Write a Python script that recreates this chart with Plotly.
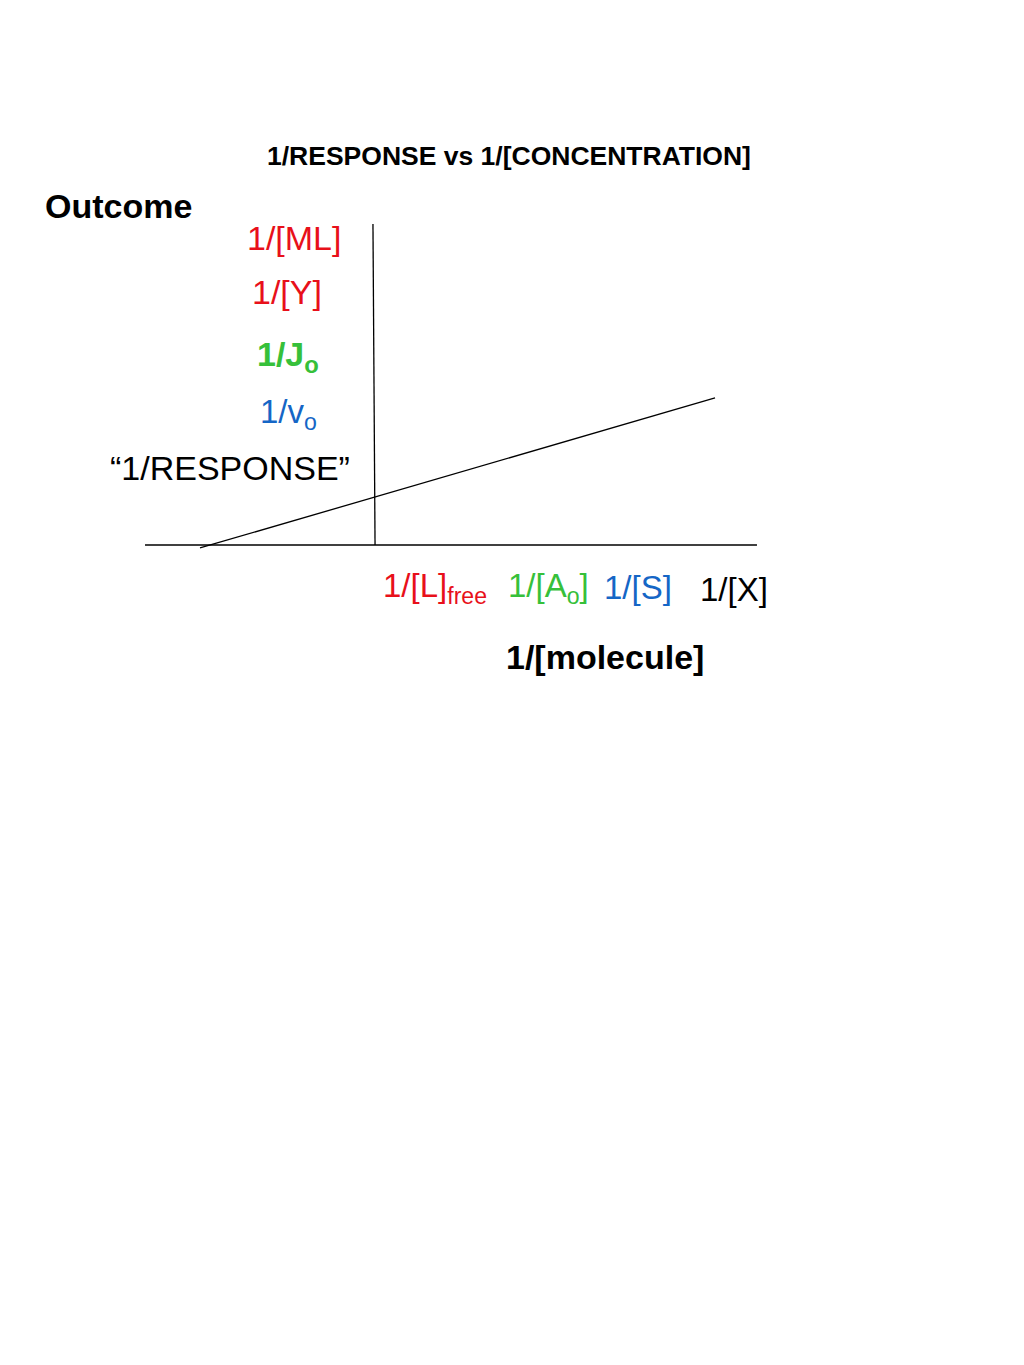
import plotly.graph_objects as go

# ---- data (abstract double-reciprocal units) ----
line_x = [-1.0, 1.96]          # double-reciprocal line: x-intercept at -1
line_y = [-0.017, 0.845]
xaxis_line_x = [-1.316, 2.201]
xaxis_line_y = [0.0, 0.0]
yaxis_line_x = [-0.006, 0.006]
yaxis_line_y = [1.845, 0.0]

y_labels = ["1/[ML]", "1/[Y]", "<b>1/J<sub>o</sub></b>", "1/v<sub>o</sub>", "\u201c1/RESPONSE\u201d"]
x_labels = ["1/[L]<sub>free</sub>", "1/[A<sub>o</sub>]", "1/[S]", "1/[X]"]
title_text = "<b>1/RESPONSE vs 1/[CONCENTRATION]</b>"
y_title = "<b>Outcome</b>"
x_title = "<b>1/[molecule]</b>"

RED = "#e8101a"
GREEN = "#36c03a"
BLUE = "#1566c6"
BLACK = "#000000"

W, H = 1024, 1365
OFF = 8.0          # page body margin
SCALE = 174.0      # px per unit
OX, OY = 374.0 - OFF, 545.0 - OFF

fig = go.Figure()
for xs, ys in [(xaxis_line_x, xaxis_line_y), (yaxis_line_x, yaxis_line_y), (line_x, line_y)]:
    fig.add_trace(go.Scatter(x=xs, y=ys, mode="lines",
                             line=dict(color="black", width=1.3),
                             hoverinfo="skip", showlegend=False))

FONT = "Liberation Sans, Arial, Helvetica, sans-serif"

def px(x, y):
    return (x - OFF) / W, 1 - (y - OFF) / H

def ann(text, x, y, size, color, xanchor="center"):
    px_, py_ = px(x, y)
    fig.add_annotation(text=text, x=px_, y=py_, xref="paper", yref="paper",
                       showarrow=False, xanchor=xanchor, yanchor="middle",
                       font=dict(family=FONT, size=size, color=color))

ann(title_text, 509, 156, 26.5, BLACK)
ann(y_title, 43, 206, 34, BLACK, xanchor="left")

y_colors = [RED, RED, GREEN, BLUE, BLACK]
y_pos = [(294, 238), (287, 292), (288, 356), (288, 414), (230, 468)]
y_sizes = [34, 34, 34, 33, 34]
for t, c, (x, y), s in zip(y_labels, y_colors, y_pos, y_sizes):
    ann(t, x, y, s, c)

x_colors = [RED, GREEN, BLUE, BLACK]
x_pos = [(435, 588), (548, 588), (638, 587), (734, 589)]
for t, c, (x, y) in zip(x_labels, x_colors, x_pos):
    ann(t, x, y, 33, c)

ann(x_title, 605, 657, 34, BLACK)

fig.update_layout(
    width=W, height=H,
    margin=dict(l=0, r=0, t=0, b=0),
    paper_bgcolor="white", plot_bgcolor="white",
    xaxis=dict(range=[-OX / SCALE, (W - OX) / SCALE], visible=False, fixedrange=True),
    yaxis=dict(range=[-(H - OY) / SCALE, OY / SCALE], visible=False, fixedrange=True),
    showlegend=False,
)

fig.write_html("out.html")
